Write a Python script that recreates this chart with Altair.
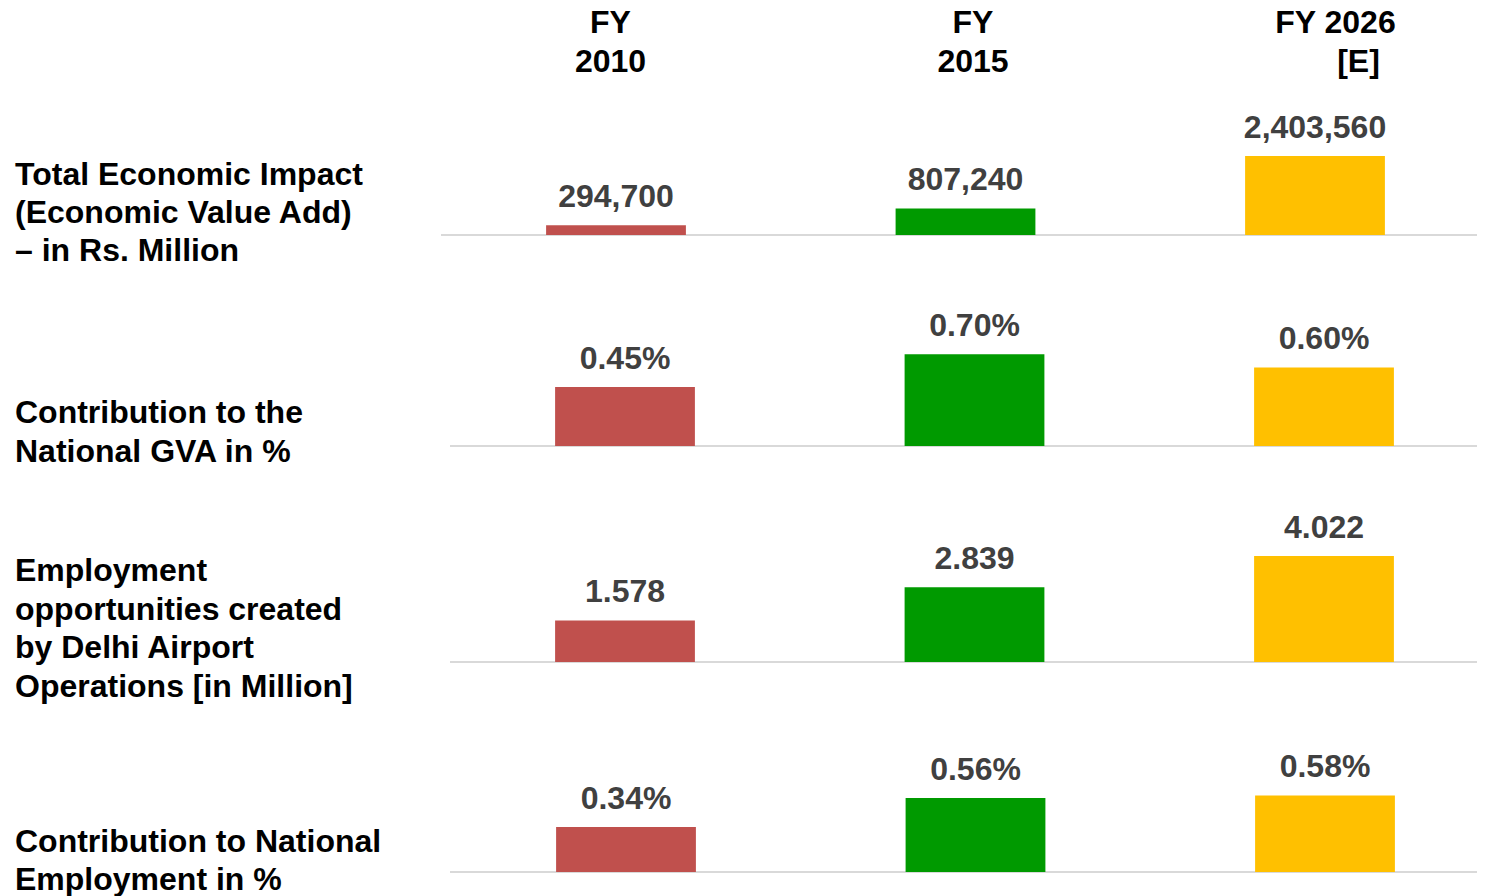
import altair as alt
import pandas as pd

# ---------------- data ----------------
years = ["FY 2010", "FY 2015", "FY 2026 [E]"]
header_line1 = ["FY", "FY", "FY 2026"]
header_line2 = ["2010", "2015", "[E]"]
bar_colors = ["#C0504D", "#009A00", "#FFC000"]

metric_keys = ["impact", "gva", "jobs", "emp"]
metric_labels = [
    "Total Economic Impact\n(Economic Value Add)\n\u2013 in Rs. Million",
    "Contribution to the\nNational GVA in %",
    "Employment\nopportunities created\nby Delhi Airport\nOperations [in Million]",
    "Contribution to National\nEmployment in %",
]
economic_impact = [294700, 807240, 2403560]          # Rs. Million
gva_share_pct = [0.45, 0.70, 0.60]                   # %
jobs_million = [1.578, 2.839, 4.022]                 # Million
employment_share_pct = [0.34, 0.56, 0.58]            # %

value_labels = {
    "impact": [f"{v:,}" for v in economic_impact],
    "gva": [f"{v:.2f}%" for v in gva_share_pct],
    "jobs": [f"{v:.3f}" for v in jobs_million],
    "emp": [f"{v:.2f}%" for v in employment_share_pct],
}
series = {
    "impact": economic_impact,
    "gva": gva_share_pct,
    "jobs": jobs_million,
    "emp": employment_share_pct,
}

rows = []
for k in metric_keys:
    for yr, v, lab in zip(years, series[k], value_labels[k]):
        rows.append({"metric": k, "year": yr, "value": v, "label": lab})
df = pd.DataFrame(rows)
header_df = pd.DataFrame({"year": years, "l1": header_line1, "l2": header_line2})

# ---------------- layout ----------------
W, H = 1469, 888
FONT = "Liberation Sans"
STEP = 349.5

color_enc = alt.Color("year:N", scale=alt.Scale(domain=years, range=bar_colors), legend=None)


def make_row(key, label_text, base_y, px_per_unit, y_max, x_start, line_start, label_y, lh):
    data = df[df.metric == key]
    x = alt.X("year:N", sort=years, axis=None,
              scale=alt.Scale(domain=years, range=[x_start, x_start + 3 * STEP],
                              paddingInner=0.6, paddingOuter=0.3))
    y = alt.Y("value:Q", axis=None,
              scale=alt.Scale(domain=[0, y_max],
                              range=[base_y, base_y - px_per_unit * y_max],
                              nice=False, zero=True))
    rule = alt.Chart(pd.DataFrame({"value": [0]})).mark_rule(
        color="#D9D9D9", strokeWidth=2
    ).encode(x=alt.value(line_start), x2=alt.value(W), y=y)
    bars = alt.Chart(data).mark_bar().encode(x=x, y=y, color=color_enc)
    text = alt.Chart(data).mark_text(
        baseline="alphabetic", dy=-18, fontSize=32, fontWeight="bold",
        font=FONT, color="#404040"
    ).encode(x=x, y=y, text="label:N")
    lab = alt.Chart(pd.DataFrame({"t": [label_text]})).mark_text(
        align="left", baseline="alphabetic", lineBreak="\n", lineHeight=lh,
        fontSize=32, fontWeight="bold", font=FONT, color="#000000"
    ).encode(x=alt.value(7), y=alt.value(label_y), text="t:N")
    return alt.layer(rule, bars, text, lab)


hx = alt.X("year:N", sort=years, axis=None,
           scale=alt.Scale(domain=years, range=[421.25, 1508.75],
                           paddingInner=0.6, paddingOuter=0.3))
hbase = alt.Chart(header_df)
hstyle = dict(align="center", baseline="alphabetic", fontSize=32,
              fontWeight="bold", font=FONT, color="#000000")
head1 = hbase.mark_text(**hstyle).encode(x=hx, y=alt.value(24.5), text="l1:N")
head2a = hbase.transform_filter(alt.datum.year != years[2]).mark_text(**hstyle).encode(
    x=hx, y=alt.value(63.5), text="l2:N")
head2b = hbase.transform_filter(alt.datum.year == years[2]).mark_text(dx=23, **hstyle).encode(
    x=hx, y=alt.value(63.5), text="l2:N")
header = alt.layer(head1, head2a, head2b)

row1 = make_row("impact", metric_labels[0], 227, 79 / 2403560, 2500000, 433.25, 433, 177, 38)
row2 = make_row("gva", metric_labels[1], 438, 131, 1.0, 442.25, 442, 415, 39)
row3 = make_row("jobs", metric_labels[2], 654, 26.35, 5.0, 442.25, 442, 573, 38.7)
row4 = make_row("emp", metric_labels[3], 864, 132, 1.0, 443.25, 442, 844, 38)

chart = alt.layer(header, row1, row2, row3, row4).resolve_scale(
    x="independent", y="independent"
).properties(
    width=W, height=H, autosize=alt.AutoSizeParams(type="none"), padding=0
).configure_view(stroke=None)

chart.save("out.html", embed_options={"renderer": "svg", "actions": False})
